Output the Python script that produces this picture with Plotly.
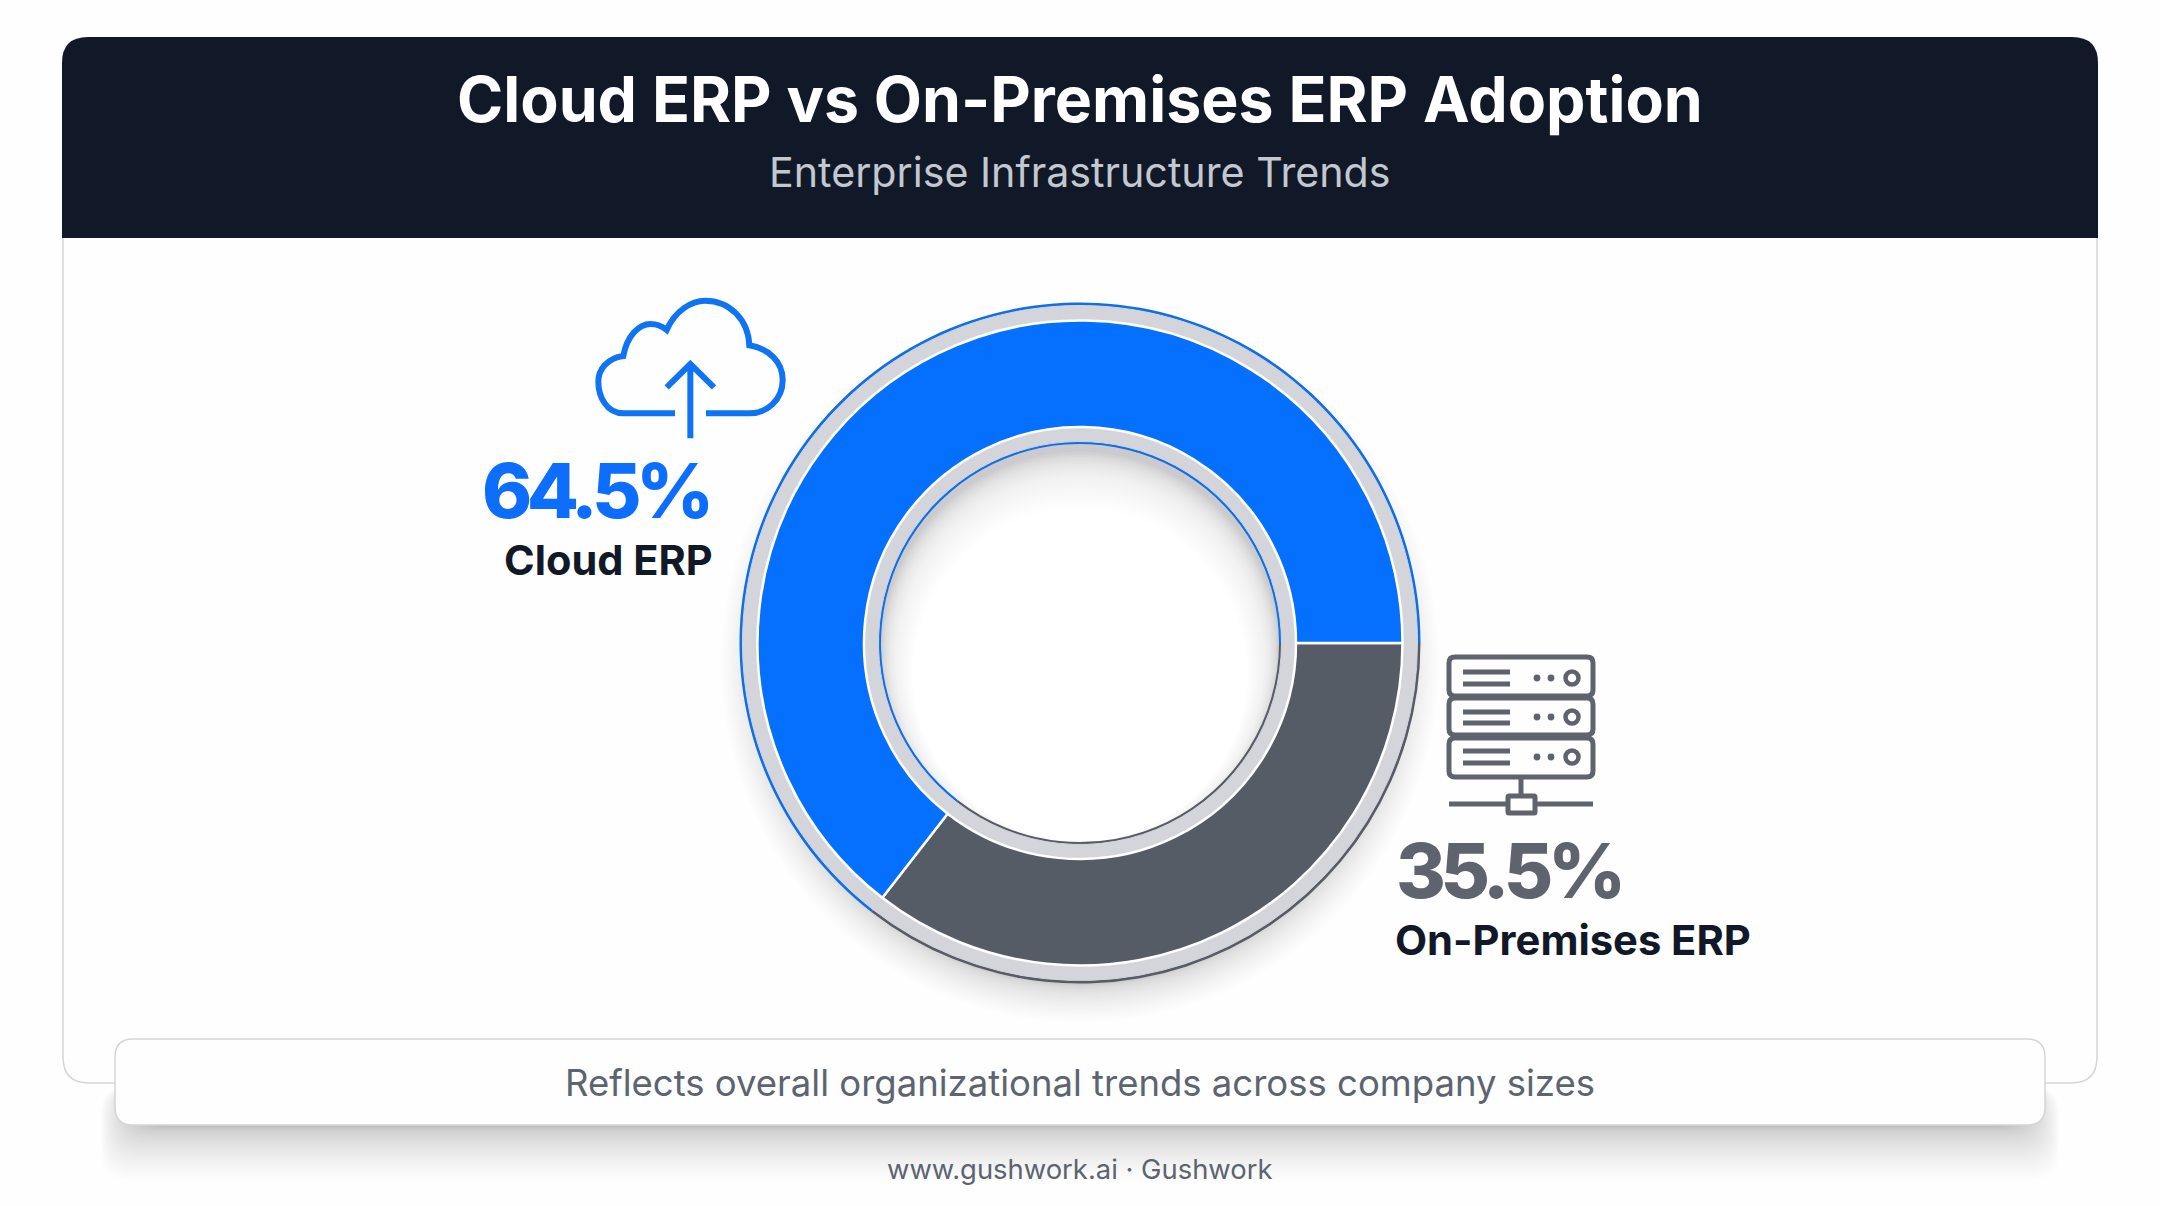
import plotly.graph_objects as go

# Data
categories = ["On-Premises ERP", "Cloud ERP"]
values = [35.5, 64.5]
colors = ["#565c66", "#0570fd"]
edge_colors = ["#565b66", "#0f6fe8"]
title = "Cloud ERP vs On-Premises ERP Adoption"
subtitle = "Enterprise Infrastructure Trends"
note = "Reflects overall organizational trends across company sizes"
credit = "www.gushwork.ai · Gushwork"

W, H = 2160, 1206
CX, CY = 1080, 643
FONT = "Inter"
shapes = []


def px(x):
    return x / W


def py(y):
    return 1 - y / H


def rrect(x0, y0, x1, y1, rt, rb=None):
    rb = rt if rb is None else rb
    p = lambda x, y: f"{px(x):.5f},{py(y):.5f}"
    return (f"M{p(x0 + rt, y0)} L{p(x1 - rt, y0)} Q{p(x1, y0)} {p(x1, y0 + rt)} "
            f"L{p(x1, y1 - rb)} Q{p(x1, y1)} {p(x1 - rb, y1)} L{p(x0 + rb, y1)} "
            f"Q{p(x0, y1)} {p(x0, y1 - rb)} L{p(x0, y0 + rt)} Q{p(x0, y0)} {p(x0 + rt, y0)} Z")


def add_path(d, fill="rgba(0,0,0,0)", line=None, lw=0, opacity=1, layer="below"):
    shapes.append(dict(type="path", xref="paper", yref="paper", path=d, fillcolor=fill,
                       line=dict(color=line or "rgba(0,0,0,0)", width=lw), opacity=opacity, layer=layer))


def circle(cx, cy, r, fill="rgba(0,0,0,0)", line=None, lw=0, opacity=1, layer="below"):
    shapes.append(dict(type="circle", xref="paper", yref="paper", x0=px(cx - r), x1=px(cx + r),
                       y0=py(cy + r), y1=py(cy - r), fillcolor=fill,
                       line=dict(color=line or "rgba(0,0,0,0)", width=lw), opacity=opacity, layer=layer))


def line(x0, y0, x1, y1, color, lw, layer="above"):
    shapes.append(dict(type="line", xref="paper", yref="paper", x0=px(x0), x1=px(x1), y0=py(y0), y1=py(y1),
                       line=dict(color=color, width=lw), layer=layer))


# Panel
add_path(rrect(63, 60, 2097, 1083, 26), fill="#fefefe", line="#d3d5d9", lw=1.5)
add_path(rrect(62, 37, 2098, 238, 26, 0.1), fill="#111827")

# Donut shadow
for i in range(50):
    circle(CX, CY + 20, 322 + 38 * (1 - i / 50) ** 2, fill="#20242c", opacity=0.005)

# Hole with a soft shadow at its top
circle(CX, CY, 200, fill="#cbcbcd")
for i in range(26):
    circle(CX, CY + 8 + i * 1.0, 199 - i * 1.4, fill="#ffffff", opacity=0.13 + 0.87 * (i / 25) ** 6)


def ring(r, hole, cols, lw=0, lc=None):
    f = r / (H / 2) / 2
    fx = r / W
    return go.Pie(labels=categories, values=values, sort=False, direction="clockwise", rotation=90,
                  domain=dict(x=[px(CX) - fx, px(CX) + fx], y=[py(CY) - f, py(CY) + f]),
                  hole=hole / r, marker=dict(colors=cols, line=dict(color=lc or "rgba(0,0,0,0)", width=lw)),
                  textinfo="none", hoverinfo="skip", showlegend=False)


fig = go.Figure([
    ring(340.5, 199, edge_colors),
    ring(337.5, 201.5, ["#d3d5da", "#d3d5da"], 1, "#d3d5da"),
    ring(322.5, 216, colors, 2.5, "#ffffff"),
])

# Footer note box
for i in range(65):
    add_path(rrect(100 + i * 0.55, 1085, 2060 - i * 0.55, 1127 + 54 * (1 - i / 65) ** 2, 30), fill="#20242c",
             opacity=0.005, layer="above")
add_path(rrect(115, 1039, 2045, 1125, 18), fill="#fefefe", line="#d3d5d9", lw=1.5, layer="above")

# Cloud icon
BLUE = "#0f74f3"


def cp(x, y):
    return f"{px(560 + x / 3):.5f},{py(270 + y / 3):.5f}"


cloud = (f"M{cp(345, 430)} L{cp(190, 430)} C{cp(140, 430)} {cp(115, 380)} {cp(115, 335)} "
         f"C{cp(115, 300)} {cp(140, 265)} {cp(190, 258)} C{cp(200, 200)} {cp(235, 162)} {cp(272, 162)} "
         f"C{cp(292, 162)} {cp(308, 170)} {cp(320, 180)} C{cp(345, 122)} {cp(395, 92)} {cp(435, 92)} "
         f"C{cp(510, 92)} {cp(565, 150)} {cp(568, 226)} C{cp(625, 235)} {cp(668, 275)} {cp(668, 330)} "
         f"C{cp(668, 390)} {cp(620, 430)} {cp(570, 430)} L{cp(438, 430)}")
add_path(cloud, line=BLUE, lw=6, layer="above")
add_path(f"M{cp(391, 505)} L{cp(391, 282)} M{cp(320, 352)} L{cp(391, 282)} L{cp(462, 352)}", line=BLUE, lw=6,
         layer="above")

# Server icon
GREY = "#5f636d"
for y0, y1 in [(657, 696), (698, 735), (738, 777)]:
    add_path(rrect(1449, y0, 1593, y1, 6), fill="#fefefe", line=GREY, lw=5, layer="above")
for y_a, y_b, y_c in [(672, 684, 678), (712, 723, 717), (751, 763, 757)]:
    line(1463, y_a, 1510, y_a, GREY, 5)
    line(1463, y_b, 1510, y_b, GREY, 5)
    circle(1537, y_c, 3.4, fill=GREY, layer="above")
    circle(1551, y_c, 3.4, fill=GREY, layer="above")
    circle(1572, y_c, 6.5, fill="#fefefe", line=GREY, lw=4.5, layer="above")
line(1521, 777, 1521, 797, GREY, 5)
line(1449, 804, 1593, 804, GREY, 5)
add_path(rrect(1508, 796, 1535, 813, 1), fill="#fefefe", line=GREY, lw=5, layer="above")


def text(x, y, s, size, color, weight=400, anchor="center", spacing=None):
    if spacing is not None:
        s = f'<span style="letter-spacing:{spacing}px">{s}</span>'
    return dict(x=px(x), y=py(y), xref="paper", yref="paper", text=s, showarrow=False, xanchor=anchor,
                yanchor="middle", font=dict(family=FONT, size=size, color=color, weight=weight))


annotations = [
    text(1080, 99, title, 62.6, "#ffffff", 700),
    text(1080, 172, subtitle, 41.2, "#c3c8d0"),
    text(711, 490, f"{values[1]}%", 76, "#0d6efd", 800, "right", -5.5),
    text(715, 560, categories[1], 41.5, "#111827", 700, "right"),
    text(1394, 870, f"{values[0]}%", 76, "#5f636d", 800, "left", -5.5),
    text(1393, 940, categories[0], 41.7, "#111827", 700, "left"),
    text(1080, 1083, note, 36.5, "#5b6470"),
    text(1080, 1169, credit, 27.4, "#5b6470"),
]

fig.update_layout(width=W, height=H, margin=dict(l=0, r=0, t=0, b=0), paper_bgcolor="#fefefe",
                  plot_bgcolor="#fefefe", shapes=shapes, annotations=annotations, showlegend=False)
fig.write_html("out.html", config=dict(displayModeBar=False),
               post_script="document.body.style.margin='0';document.body.style.overflow='hidden';")
